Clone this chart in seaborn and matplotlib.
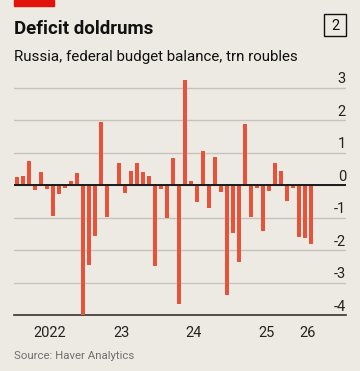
import numpy as np
import pandas as pd
import matplotlib
matplotlib.use("Agg")
import matplotlib.pyplot as plt
import matplotlib.transforms as mtransforms
from matplotlib.patches import Rectangle
import seaborn as sns

# Monthly federal budget balance, trn roubles (Jan 2022 - Feb 2026)
months = list(pd.period_range("2022-01", periods=50, freq="M").astype(str))
balance = [0.25, 0.28, 0.75, -0.15, 0.41, -0.11, -0.94, -0.27, -0.09, 0.13, 0.37, -4.04,
           -2.47, -1.58, 1.94, -0.97, 0.0, 0.67, -0.25, 0.44, 0.67, 0.39, 0.29, -2.50,
           -0.12, -1.00, 0.83, -3.67, 3.23, 0.11, -0.51, 1.05, -0.71, 0.85, -0.22, -3.38,
           -1.48, -2.38, 1.87, -0.97, -0.10, -1.42, -0.18, 0.69, 0.44, -0.49, -0.08, -1.61,
           -1.63, -1.83]
year_labels = ["2022", "23", "24", "25", "26"]
y_ticks = [-4, -3, -2, -1, 0, 1, 2, 3]

df = pd.DataFrame({"month": months, "balance": balance})

BG = "#ECEAE2"
BAR = "#E8513A"
RED = "#E3120B"

sns.set_style("white")
plt.rcParams["font.family"] = ["Roboto", "DejaVu Sans"]

W, H = 360, 371
fig = plt.figure(figsize=(W / 100, H / 100), dpi=100, facecolor=BG)
ax = fig.add_axes([14 / W, 1 - 315 / H, 332 / W, (315 - 74.5) / H])
ax.set_facecolor(BG)

sns.barplot(data=df, x="month", y="balance", color=BAR, saturation=1,
            width=0.72, linewidth=0, ax=ax, zorder=3)

ax.set_xlim(-0.5, 54.83)
ax.set_ylim(-4, 3.4)
ax.set_xlabel("")
ax.set_ylabel("")

# gridlines and zero line
for y in y_ticks[1:]:
    ax.axhline(y, color="#C5C3BB", lw=1, zorder=1)
ax.axhline(0, color="#1a1a1a", lw=1.4, zorder=4)

# y labels on the right, sitting above gridlines
trans = mtransforms.blended_transform_factory(ax.transAxes, ax.transData)
for y in y_ticks:
    ax.text(1.0, y + 0.04, str(y), transform=trans,
            ha="right", va="bottom", fontsize=10.5, color="#222222")
ax.set_yticks([])

# x axis: year boundary ticks, labels centred between them
bounds = [-0.5, 11.5, 23.5, 35.5, 47.5, 49.5]
ax.set_xticks(bounds, minor=True)
ax.set_xticks([(a + b) / 2 for a, b in zip(bounds[:-1], bounds[1:])])
ax.set_xticklabels(year_labels, fontsize=10.5, color="#222222")
ax.tick_params(axis="x", which="major", length=0, pad=8)
ax.tick_params(axis="x", which="minor", length=5, width=1.2, color="#333333",
               direction="out")

for side in ["top", "left", "right"]:
    ax.spines[side].set_visible(False)
ax.spines["bottom"].set_color("#333333")
ax.spines["bottom"].set_linewidth(1.2)

# header
fig.patches.append(Rectangle((14 / W, 1 - 5.5 / H), 40 / W, 5.5 / H,
                             transform=fig.transFigure, color=RED))
fig.text(14 / W, 1 - 34 / H, "Deficit doldrums", fontsize=13.5, fontweight="bold",
         color="#111111", va="baseline")
fig.text(14 / W, 1 - 61 / H, "Russia, federal budget balance, trn roubles",
         fontsize=10.9, color="#111111", va="baseline")
fig.patches.append(Rectangle((324 / W, 1 - 36 / H), 22 / W, 22 / H,
                             transform=fig.transFigure, fill=False,
                             edgecolor="#111111", lw=1))
fig.text(335 / W, 1 - 25.5 / H, "2", fontsize=10.5, ha="center", va="center",
         color="#111111")
fig.text(14 / W, 1 - 359 / H, "Source: Haver Analytics", fontsize=8.2,
         color="#6f6f6f", va="baseline")

fig.savefig("out.png", dpi=100, facecolor=BG)
